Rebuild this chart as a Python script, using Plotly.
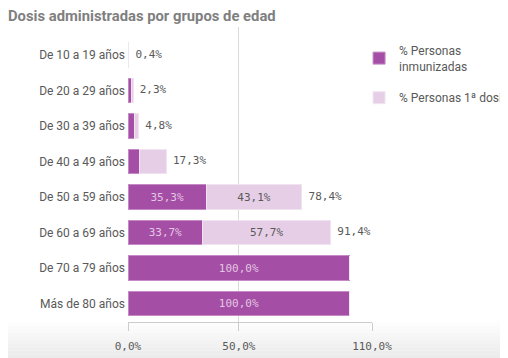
import plotly.graph_objects as go

categorias = ["De 10 a 19 años", "De 20 a 29 años", "De 30 a 39 años", "De 40 a 49 años",
              "De 50 a 59 años", "De 60 a 69 años", "De 70 a 79 años", "Más de 80 años"]
inmunizadas = [0.0, 1.5, 2.8, 5.0, 35.3, 33.7, 100.0, 100.0]
primera_dosis = [0.4, 0.8, 2.0, 12.3, 43.1, 57.7, 0.0, 0.0]
totales = [0.4, 2.3, 4.8, 17.3, 78.4, 91.4, 100.0, 100.0]
x_ticks = [0, 50, 110]

def fmt(v):
    return f"{v:.1f}".replace(".", ",") + "%"

txt_inm = [fmt(v) if v >= 20 else "" for v in inmunizadas]
txt_pri = [fmt(v) if v >= 20 else "" for v in primera_dosis]
txt_tot = ["\u2009" + fmt(t) if p > 0 else "" for t, p in zip(totales, primera_dosis)]
tick_text = [fmt(v) for v in x_ticks]

DARK = "#a54ea5"
LIGHT = "#e6cfe6"
MONO = "DejaVu Sans Mono"
SANS = "Roboto"

# page has an 8px body margin: figure is 500x350 placed at (8, 8)
W, H = 500, 350
L, R, T, B = 120, 136, 19, 36
PH = H - T - B

fig = go.Figure()
fig.add_trace(go.Bar(
    y=categorias, x=inmunizadas, orientation="h", name="% Personas<br>inmunizadas",
    legendgroup="a",
    marker=dict(color=DARK, line=dict(color="#c58ac5", width=1)),
    text=txt_inm, textposition="inside", insidetextanchor="middle",
    textfont=dict(family=MONO, size=11, color="#e3c6e3"), hoverinfo="skip",
))
fig.add_trace(go.Bar(
    y=categorias, x=primera_dosis, orientation="h", name="% Personas 1ª dosis",
    legendgroup="b",
    marker=dict(color=LIGHT, line=dict(color="#f1e4f1", width=1)),
    text=txt_pri, textposition="inside", insidetextanchor="middle",
    textfont=dict(family=MONO, size=11, color="#595959"), hoverinfo="skip",
))
fig.add_trace(go.Scatter(
    y=categorias, x=totales, mode="text", text=txt_tot, textposition="middle right",
    textfont=dict(family=MONO, size=11, color="#595959"), showlegend=False, hoverinfo="skip",
))

# subtle bottom gradient
n = 10
for i in range(n):
    y0 = -B / PH * i / n
    y1 = -B / PH * (i + 1) / n
    fig.add_shape(type="rect", xref="paper", yref="paper", x0=-1, x1=2, y0=y1, y1=y0,
                  line=dict(width=0), fillcolor="#e6e6e6", opacity=(i + 1) / n * 0.8,
                  layer="below")

fig.update_layout(
    width=W, height=H,
    margin=dict(l=L, r=R, t=T, b=B, autoexpand=False),
    paper_bgcolor="white", plot_bgcolor="rgba(0,0,0,0)",
    barmode="stack", bargap=0.3,
    showlegend=True,
    legend=dict(x=0.947, y=1 - 9 / PH, yanchor="top", xanchor="left",
                font=dict(family=SANS, size=12, color="#595959"),
                bgcolor="rgba(0,0,0,0)", traceorder="grouped", tracegroupgap=13),
    title=dict(text="<b>Dosis administradas por grupos de edad</b>", x=0, xanchor="left",
               y=1 - 8 / H, yanchor="middle", pad=dict(l=0),
               font=dict(family=SANS, size=14.8, color="#7f7f7f")),
    xaxis=dict(range=[0, 110], tickvals=x_ticks, ticktext=tick_text,
               showgrid=True, gridcolor="#d9d9d9", gridwidth=1, zeroline=False,
               showline=True, linecolor="#cccccc", ticks="outside", ticklen=8,
               tickcolor="#cccccc", tickfont=dict(family=MONO, size=11, color="#595959"),
               ticklabelstandoff=6, fixedrange=True, automargin=False),
    yaxis=dict(type="category", categoryorder="array", categoryarray=categorias,
               range=[7.52, -0.79], showgrid=False, zeroline=False, showline=False,
               ticks="", tickfont=dict(family=SANS, size=12, color="#595959"),
               ticklabelstandoff=2, fixedrange=True, automargin=False),
    font=dict(family=SANS),
)

fig.write_html("out.html")
